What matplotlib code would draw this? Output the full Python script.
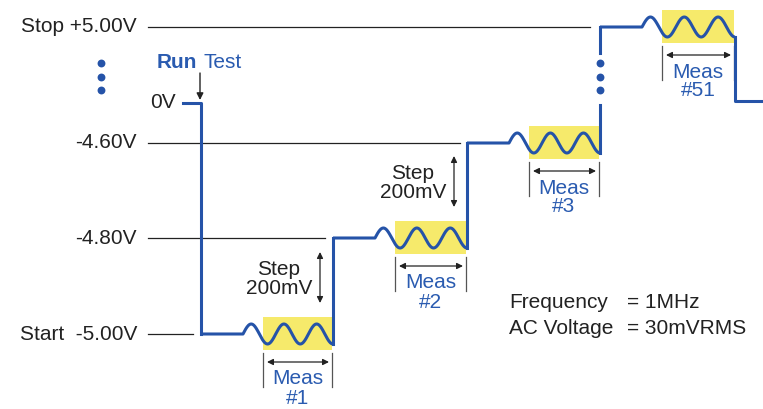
import numpy as np
import matplotlib.pyplot as plt

plt.rcParams['font.family'] = ['Liberation Sans', 'DejaVu Sans']

# diagram levels (pixel rows of the schematic) and their labels
level_labels = ['Start  -5.00V', '-4.80V', '-4.60V', 'Stop +5.00V']
level_y = [334, 238, 143, 27]
ref_line_end = [193, 325, 460, 590]
zero_label = '0V'
zero_y = 103
# step edges (x) and the measurement names
step_x = [201, 333, 467, 600, 735]
meas_labels = ['#1', '#2', '#3', '#51']
step_text = 'Step\n200mV'
info_names = ['Frequency', 'AC Voltage']
info_values = ['= 1MHz', '= 30mVRMS']

BLUE = '#2553a8'
TXT_BLUE = '#2a5bb0'
YELLOW = '#f6ea6b'
DARK = '#222222'
FS = 15

fig = plt.figure(figsize=(7.63, 4.09), dpi=100)
ax = fig.add_axes([0, 0, 1, 1])
ax.set_xlim(0, 763)
ax.set_ylim(409, 0)
ax.axis('off')

# reference lines + labels
for lab, y, xe in zip(level_labels, level_y, ref_line_end):
    ax.plot([148, xe], [y, y], color=DARK, lw=0.9, zorder=1)
    ax.text(137, y, lab, ha='right', va='center', fontsize=FS, color=DARK)
ax.text(176, zero_y, zero_label, ha='right', va='center', fontsize=FS, color=DARK)

# waveform
amp = 10
lw = 2.2
ax.plot([183, step_x[0], step_x[0]], [zero_y, zero_y, level_y[0]], color=BLUE, lw=lw, zorder=3)
for i in range(4):
    x0, x1, y = step_x[i], step_x[i + 1], level_y[i]
    ws = x0 + 42
    per = (x1 - ws) / 2.75
    xw = np.linspace(ws, x1, 200)
    yw = y - amp * np.sin(2 * np.pi * (xw - ws) / per)
    xs = np.concatenate([[x0], xw])
    ys = np.concatenate([[y], yw])
    ax.plot(xs, ys, color=BLUE, lw=lw, zorder=3, solid_capstyle='butt')
    # yellow measurement window
    bx0, bx1 = x0 + 62, x1 - 1
    ax.fill_between([bx0, bx1], y - 17, y + 16, color=YELLOW, lw=0, zorder=2)
    # bracket below
    for bx in (bx0, bx1):
        ax.plot([bx, bx], [y + 19, y + 53], color='#555555', lw=0.9, zorder=1)
    ax.annotate('', xy=(bx0 + 4, y + 28), xytext=(bx1 - 3, y + 28),
                arrowprops=dict(arrowstyle='<|-|>', color=DARK, lw=0.9,
                                mutation_scale=9, shrinkA=0, shrinkB=0))
    cx = (bx0 + bx1) / 2
    ax.text(cx, y + 45, 'Meas', ha='center', va='center', fontsize=FS, color=TXT_BLUE)
    ax.text(cx, y + 64, meas_labels[i], ha='center', va='center', fontsize=FS, color=TXT_BLUE)

# vertical edges
ax.plot([step_x[1], step_x[1]], [level_y[0] + amp, level_y[1]], color=BLUE, lw=lw, zorder=3)
ax.plot([step_x[2], step_x[2]], [level_y[1] + amp, level_y[2]], color=BLUE, lw=lw, zorder=3)
ax.plot([step_x[3], step_x[3]], [level_y[2] + amp, 105], color=BLUE, lw=lw, zorder=3)
ax.plot([step_x[3], step_x[3]], [53, level_y[3]], color=BLUE, lw=lw, zorder=3)
ax.plot([step_x[4], step_x[4], 763], [level_y[3] + amp, 101, 101], color=BLUE, lw=lw, zorder=3)

# ellipsis dots
for dx in (101, step_x[3]):
    ax.scatter([dx] * 3, [63, 77, 90], s=32, color=BLUE, zorder=4, lw=0)

# step annotations
for i in (0, 1):
    xe, yl = step_x[i + 1], level_y[i]
    ax.text(xe - 54, yl - 55, step_text, ha='center', va='center', fontsize=FS,
            color=DARK, linespacing=1.0)
    ax.annotate('', xy=(xe - 13, yl - 82), xytext=(xe - 13, yl - 31),
                arrowprops=dict(arrowstyle='<|-|>', color=DARK, lw=0.9,
                                mutation_scale=9, shrinkA=0, shrinkB=0))

# Run Test
ax.text(157, 62, 'Run', ha='left', va='center', fontsize=FS, color=TXT_BLUE, fontweight='bold')
ax.text(204, 62, 'Test', ha='left', va='center', fontsize=FS, color=TXT_BLUE)
ax.annotate('', xy=(200, 100), xytext=(200, 73),
            arrowprops=dict(arrowstyle='-|>', color=DARK, lw=1.0, mutation_scale=10,
                            shrinkA=0, shrinkB=0))

# test conditions
for j, (n, v) in enumerate(zip(info_names, info_values)):
    ax.text(509, 302 + 27 * j, n, ha='left', va='center', fontsize=FS, color=DARK)
    ax.text(627, 302 + 27 * j, v, ha='left', va='center', fontsize=FS, color=DARK)

fig.savefig('out.png', dpi=100)
